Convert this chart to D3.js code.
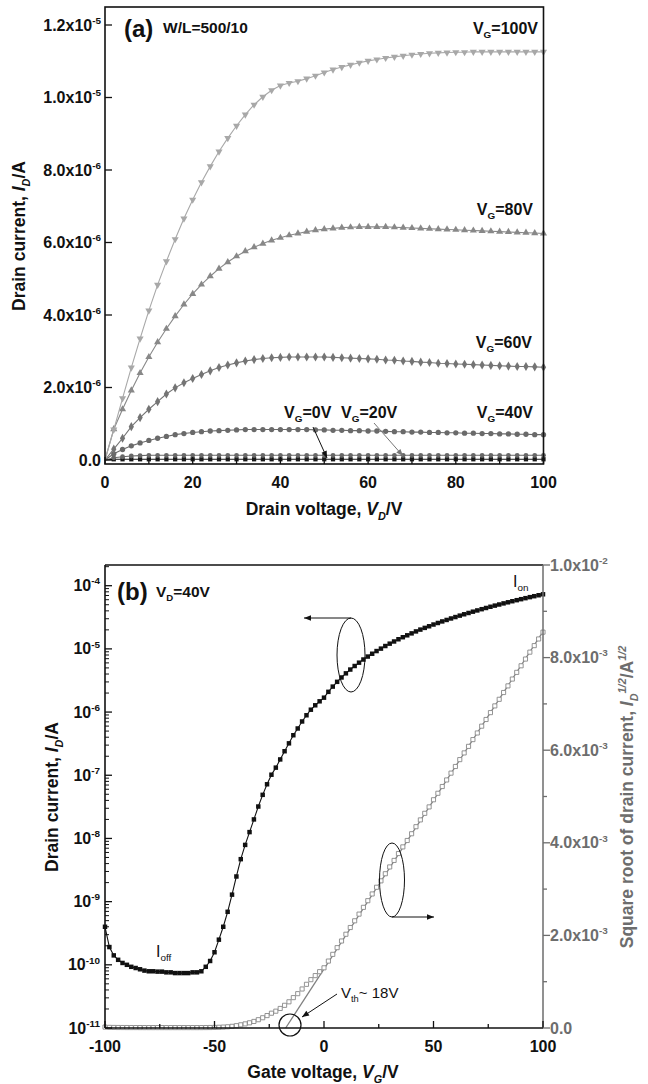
<!DOCTYPE html>
<html>
<head>
<meta charset="UTF-8">
<style>
  body { margin: 0; background: #fff; }
  svg text { font-family: "Liberation Sans", Arial, Helvetica, sans-serif; }
</style>
</head>
<body>
<svg id="chart" width="648" height="1084"></svg>
<script src="https://d3js.org/d3.v7.min.js"></script>
<script>
// ---------- panel (a): output curves, I_D in µA vs V_D ----------
const vdA = d3.range(0, 101, 2);
const id100 = [0, 0.84, 1.70, 2.55, 3.35, 4.12, 4.83, 5.48, 6.09, 6.66, 7.18, 7.66, 8.10, 8.51, 8.88, 9.22, 9.53, 9.80, 10.02, 10.20,
  10.33, 10.40, 10.45, 10.52, 10.60, 10.69, 10.77, 10.84, 10.90, 10.96, 11.01, 11.05, 11.09, 11.12, 11.15, 11.18, 11.20, 11.22, 11.23, 11.24,
  11.25, 11.25, 11.26, 11.26, 11.26, 11.26, 11.26, 11.26, 11.26, 11.26, 11.26];
const id80 = [0, 0.85, 1.40, 1.92, 2.40, 2.84, 3.25, 3.62, 3.97, 4.29, 4.58, 4.84, 5.07, 5.28, 5.46, 5.62, 5.76, 5.87, 5.97, 6.06,
  6.13, 6.20, 6.25, 6.30, 6.34, 6.37, 6.39, 6.41, 6.42, 6.43, 6.43, 6.43, 6.43, 6.42, 6.41, 6.40, 6.39, 6.38, 6.37, 6.36,
  6.35, 6.34, 6.33, 6.32, 6.31, 6.30, 6.29, 6.28, 6.27, 6.26, 6.25];
const id60 = [0, 0.30, 0.60, 0.92, 1.17, 1.40, 1.61, 1.82, 1.99, 2.13, 2.25, 2.36, 2.46, 2.55, 2.62, 2.68, 2.73, 2.77, 2.80, 2.82,
  2.83, 2.84, 2.84, 2.84, 2.84, 2.84, 2.83, 2.82, 2.81, 2.80, 2.79, 2.78, 2.76, 2.75, 2.73, 2.72, 2.70, 2.69, 2.67, 2.66,
  2.65, 2.64, 2.63, 2.62, 2.61, 2.60, 2.59, 2.58, 2.58, 2.57, 2.56];
const id40 = [0, 0.17, 0.29, 0.39, 0.47, 0.54, 0.60, 0.65, 0.70, 0.73, 0.76, 0.78, 0.80, 0.81, 0.82, 0.83, 0.84, 0.84, 0.84, 0.84,
  0.84, 0.84, 0.84, 0.84, 0.83, 0.83, 0.82, 0.82, 0.81, 0.81, 0.80, 0.80, 0.79, 0.78, 0.78, 0.77, 0.77, 0.76, 0.76, 0.75,
  0.75, 0.74, 0.74, 0.73, 0.73, 0.72, 0.72, 0.71, 0.71, 0.70, 0.70];
const id20 = [0, 0.06, 0.09, 0.11, 0.12, 0.13, 0.13, 0.13, 0.13, 0.13, 0.13, 0.13, 0.13, 0.13, 0.13, 0.13, 0.13, 0.13, 0.13, 0.13,
  0.13, 0.13, 0.13, 0.13, 0.13, 0.13, 0.13, 0.13, 0.13, 0.13, 0.13, 0.13, 0.13, 0.13, 0.13, 0.13, 0.13, 0.13, 0.13, 0.13,
  0.13, 0.13, 0.13, 0.13, 0.13, 0.13, 0.13, 0.13, 0.13, 0.13, 0.13];
const id0 = [0, 0.02, 0.02, 0.02, 0.02, 0.02, 0.02, 0.02, 0.02, 0.02, 0.02, 0.02, 0.02, 0.02, 0.02, 0.02, 0.02, 0.02, 0.02, 0.02,
  0.02, 0.02, 0.02, 0.02, 0.02, 0.02, 0.02, 0.02, 0.02, 0.02, 0.02, 0.02, 0.02, 0.02, 0.02, 0.02, 0.02, 0.02, 0.02, 0.02,
  0.02, 0.02, 0.02, 0.02, 0.02, 0.02, 0.02, 0.02, 0.02, 0.02, 0.02];
const xTicksA = [0, 20, 40, 60, 80, 100];
const yTicksA = [0, 2e-6, 4e-6, 6e-6, 8e-6, 1e-5, 1.2e-5];

// ---------- panel (b): transfer curve at V_D = 40 V ----------
const vgB = d3.range(-100, 101, 2);
const idB = [4.0e-10, 1.91e-10, 1.41e-10, 1.20e-10, 1.07e-10, 1.00e-10, 9.3e-11, 8.9e-11, 8.5e-11, 8.1e-11,
  7.9e-11, 7.9e-11, 7.8e-11, 7.8e-11, 7.6e-11, 7.6e-11, 7.4e-11, 7.4e-11, 7.4e-11, 7.4e-11,
  7.6e-11, 7.6e-11, 7.9e-11, 9.3e-11, 1.15e-10, 1.58e-10, 2.5e-10, 4.0e-10, 6.9e-10, 1.29e-9,
  2.5e-9, 4.7e-9, 7.9e-9, 1.26e-8, 2.0e-8, 3.2e-8, 4.9e-8, 7.2e-8, 1.02e-7, 1.32e-7,
  1.78e-7, 2.4e-7, 3.2e-7, 4.3e-7, 5.5e-7, 7.1e-7, 8.9e-7, 1.09e-6, 1.28e-6, 1.48e-6,
  1.69e-6, 2.09e-6, 2.53e-6, 3.01e-6, 3.53e-6, 4.10e-6, 4.71e-6, 5.36e-6, 6.05e-6, 6.79e-6,
  7.56e-6, 8.38e-6, 9.24e-6, 1.01e-5, 1.11e-5, 1.21e-5, 1.31e-5, 1.42e-5, 1.53e-5, 1.64e-5,
  1.76e-5, 1.89e-5, 2.02e-5, 2.15e-5, 2.28e-5, 2.43e-5, 2.57e-5, 2.72e-5, 2.87e-5, 3.03e-5,
  3.19e-5, 3.36e-5, 3.53e-5, 3.70e-5, 3.88e-5, 4.06e-5, 4.25e-5, 4.44e-5, 4.64e-5, 4.84e-5,
  5.04e-5, 5.25e-5, 5.46e-5, 5.68e-5, 5.90e-5, 6.12e-5, 6.35e-5, 6.59e-5, 6.82e-5, 7.06e-5,
  7.31e-5];
const fitVg = [-17.5, 100];
const fitSqrt = [0, 8.56e-3];
const xTicksB = [-100, -50, 0, 50, 100];
const yTicksB = [1e-11, 1e-10, 1e-9, 1e-8, 1e-7, 1e-6, 1e-5, 1e-4];
const yTicksR = [0, 0.002, 0.004, 0.006, 0.008, 0.010];

const svg = d3.select("#chart");
const FS = 16;   // tick labels
const TS = 17.5; // axis titles

// text with sub/superscripts: parts = [[str, "sub"|"sup"|null, italic?]]
function rich(parent, x, y, parts, o) {
  const size = o.size || FS;
  const t = parent.append("text").attr("x", x).attr("y", y)
    .attr("font-size", size)
    .attr("font-weight", o.weight || "bold")
    .attr("text-anchor", o.anchor || "start")
    .attr("fill", o.fill || "#111");
  if (o.family) t.attr("font-family", o.family);
  if (o.rotate) t.attr("transform", `rotate(${o.rotate},${x},${y})`);
  let cur = 0;
  parts.forEach(([str, kind, ital]) => {
    const off = kind === "sup" ? -size * 0.42 : kind === "sub" ? size * 0.28 : 0;
    const ts = t.append("tspan").attr("dy", off - cur).text(str);
    if (kind) ts.attr("font-size", size * 0.62);
    if (ital) ts.attr("font-style", "italic");
    cur = off;
  });
  return t;
}

function sci(v) {
  if (v === 0) return [["0.0"]];
  const e = Math.floor(Math.log10(v) + 1e-9);
  const m = v / Math.pow(10, e);
  return [[m.toFixed(1) + "x10"], [String(e), "sup"]];
}

// arrow heads
const defs = svg.append("defs");
[["blk", "#111"], ["gry", "#777"]].forEach(([id, c]) => {
  defs.append("marker").attr("id", "arr-" + id)
    .attr("viewBox", "0 0 10 10").attr("refX", 10).attr("refY", 5)
    .attr("markerWidth", 9).attr("markerHeight", 7).attr("markerUnits", "userSpaceOnUse")
    .attr("orient", "auto")
    .append("path").attr("d", "M0,1 L10,5 L0,9 Z").attr("fill", c);
});

// ================= panel (a) =================
const xA = d3.scaleLinear().domain([0, 100]).range([105, 543.5]);
const yA = d3.scaleLinear().domain([0, 1.2e-5]).range([460, 25]);
const gA = svg.append("g");

const seriesA = [
  { vals: id0,   sym: d3.symbolSquare,   rot: 0,   size: 18, color: "#1a1a1a" },
  { vals: id20,  sym: d3.symbolCircle,   rot: 0,   size: 18, color: "#676767" },
  { vals: id40,  sym: d3.symbolCircle,   rot: 0,   size: 22, color: "#6a6a6a" },
  { vals: id60,  sym: d3.symbolDiamond,  rot: 0,   size: 24, color: "#747474" },
  { vals: id80,  sym: d3.symbolTriangle, rot: 0,   size: 22, color: "#888888" },
  { vals: id100, sym: d3.symbolTriangle, rot: 180, size: 22, color: "#a8a8a8" }
];

seriesA.forEach(s => {
  const pts = vdA.map((v, i) => [v, s.vals[i] * 1e-6]);
  gA.append("path").datum(pts)
    .attr("fill", "none").attr("stroke", s.color).attr("stroke-width", 1.1)
    .attr("d", d3.line().x(d => xA(d[0])).y(d => yA(d[1])));
  gA.append("g").selectAll("path").data(pts.slice(1)).join("path")
    .attr("d", d3.symbol().type(s.sym).size(s.size))
    .attr("transform", d => `translate(${xA(d[0])},${yA(d[1])}) rotate(${s.rot})`)
    .attr("fill", s.color);
});

// frame and ticks
gA.append("rect").attr("x", 105).attr("y", 7).attr("width", 438.5).attr("height", 457)
  .attr("fill", "none").attr("stroke", "#111").attr("stroke-width", 1.6);
const fA = 464;
d3.range(0, 101, 10).forEach(v => {
  const major = v % 20 === 0;
  gA.append("line").attr("x1", xA(v)).attr("x2", xA(v)).attr("y1", fA).attr("y2", fA - (major ? 7 : 4))
    .attr("stroke", "#111").attr("stroke-width", 1.3);
});
xTicksA.forEach(v => rich(gA, xA(v), 488, [[String(v)]], { anchor: "middle" }));
yTicksA.forEach(v => {
  gA.append("line").attr("x1", 105).attr("x2", 112).attr("y1", yA(v)).attr("y2", yA(v))
    .attr("stroke", "#111").attr("stroke-width", 1.3);
  rich(gA, 101, yA(v) + 5.5, sci(v), { anchor: "end" });
});
rich(gA, 324, 515, [["Drain voltage, "], ["V", null, 1], ["D", "sub", 1], ["/V"]], { anchor: "middle", size: TS });
rich(gA, 25, 236, [["Drain current, "], ["I", null, 1], ["D", "sub", 1], ["/A"]], { anchor: "middle", size: TS, rotate: -90 });

rich(gA, 124, 37, [["(a)"]], { size: 24 });
rich(gA, 163, 33, [["W/L=500/10"]], { size: 15.5 });
rich(gA, 538, 34, [["V"], ["G", "sub"], ["=100V"]], { anchor: "end" });
rich(gA, 533, 215, [["V"], ["G", "sub"], ["=80V"]], { anchor: "end" });
rich(gA, 532, 348, [["V"], ["G", "sub"], ["=60V"]], { anchor: "end" });
rich(gA, 533, 418, [["V"], ["G", "sub"], ["=40V"]], { anchor: "end" });
rich(gA, 341, 418, [["V"], ["G", "sub"], ["=20V"]], {});
rich(gA, 284, 418, [["V"], ["G", "sub"], ["=0V"]], {});
gA.append("line").attr("x1", 313).attr("y1", 427).attr("x2", 327).attr("y2", 458)
  .attr("stroke", "#111").attr("stroke-width", 1).attr("marker-end", "url(#arr-blk)");
gA.append("line").attr("x1", 374).attr("y1", 423).attr("x2", 403).attr("y2", 456)
  .attr("stroke", "#777").attr("stroke-width", 1).attr("marker-end", "url(#arr-gry)");

// ================= panel (b) =================
const xB = d3.scaleLinear().domain([-100, 100]).range([105, 543]);
const yB = d3.scaleLog().domain([1e-11, 1e-4]).range([1028, 585.7]);
const yR = d3.scaleLinear().domain([0, 0.01]).range([1028, 565]);
const ySq = d3.scaleSqrt().domain([0, 1e-4]).range([1028, 565]);
const gB = svg.append("g");
const grayR = "#6d6d6d";

const ptsB = vgB.map((v, i) => [v, idB[i]]);

// sqrt(I_D) hollow squares + linear fit
gB.append("path").datum(fitVg.map((v, i) => [v, fitSqrt[i]]))
  .attr("fill", "none").attr("stroke", "#808080").attr("stroke-width", 1.3)
  .attr("d", d3.line().x(d => xB(d[0])).y(d => yR(d[1])));
gB.append("g").selectAll("path").data(ptsB).join("path")
  .attr("d", d3.symbol().type(d3.symbolSquare).size(17))
  .attr("transform", d => `translate(${xB(d[0])},${ySq(d[1])})`)
  .attr("fill", "#fff").attr("stroke", "#888").attr("stroke-width", 0.9);

// log I_D filled squares
gB.append("path").datum(ptsB)
  .attr("fill", "none").attr("stroke", "#111").attr("stroke-width", 1.1)
  .attr("d", d3.line().x(d => xB(d[0])).y(d => yB(d[1])));
gB.append("g").selectAll("path").data(ptsB).join("path")
  .attr("d", d3.symbol().type(d3.symbolSquare).size(20))
  .attr("transform", d => `translate(${xB(d[0])},${yB(d[1])})`)
  .attr("fill", "#111");

// frame
gB.append("line").attr("x1", 105).attr("x2", 543).attr("y1", 565).attr("y2", 565).attr("stroke", "#111").attr("stroke-width", 1.4);
gB.append("line").attr("x1", 105).attr("x2", 105).attr("y1", 565).attr("y2", 1028).attr("stroke", "#111").attr("stroke-width", 1.6);
gB.append("line").attr("x1", 105).attr("x2", 543).attr("y1", 1028).attr("y2", 1028).attr("stroke", "#111").attr("stroke-width", 1.6);
gB.append("line").attr("x1", 543).attr("x2", 543).attr("y1", 565).attr("y2", 1028).attr("stroke", grayR).attr("stroke-width", 1.5);

// bottom ticks
d3.range(-100, 101, 25).forEach(v => {
  const major = v % 50 === 0;
  gB.append("line").attr("x1", xB(v)).attr("x2", xB(v)).attr("y1", 1028).attr("y2", 1028 - (major ? 7 : 4))
    .attr("stroke", "#111").attr("stroke-width", 1.3);
});
xTicksB.forEach(v => rich(gB, xB(v), 1052, [[String(v)]], { anchor: "middle" }));

// left log ticks
yTicksB.forEach(v => {
  gB.append("line").attr("x1", 105).attr("x2", 112).attr("y1", yB(v)).attr("y2", yB(v))
    .attr("stroke", "#111").attr("stroke-width", 1.3);
  rich(gB, 100, yB(v) + 5.5, [["10"], [String(Math.round(Math.log10(v))), "sup"]], { anchor: "end" });
  d3.range(2, 10).forEach(k => {
    const y = yB(v * k);
    if (y < 566) return;
    gB.append("line").attr("x1", 105).attr("x2", 109).attr("y1", y).attr("y2", y)
      .attr("stroke", "#111").attr("stroke-width", 1);
  });
});

// right linear ticks (gray, outside)
d3.range(0, 0.0101, 0.001).forEach((v, i) => {
  const major = i % 2 === 0;
  gB.append("line").attr("x1", 543).attr("x2", 543 + (major ? 7 : 4)).attr("y1", yR(v)).attr("y2", yR(v))
    .attr("stroke", grayR).attr("stroke-width", 1.3);
});
yTicksR.forEach(v => rich(gB, 550, yR(v) + 5.5, sci(v), { fill: grayR }));

// titles
rich(gB, 323, 1078, [["Gate voltage, "], ["V", null, 1], ["G", "sub", 1], ["/V"]], { anchor: "middle", size: TS });
rich(gB, 58, 797, [["Drain current, "], ["I", null, 1], ["D", "sub", 1], ["/A"]], { anchor: "middle", size: TS, rotate: -90 });
rich(gB, 633, 797, [["Square root of drain current, "], ["I", null, 1], ["D", "sub", 1], ["1/2", "sup", 1], ["/A"], ["1/2", "sup", 1]],
  { anchor: "middle", size: TS, rotate: -90, fill: grayR });

// annotations
rich(gB, 117, 600, [["(b)"]], { size: 24 });
rich(gB, 156, 597, [["V"], ["D", "sub"], ["=40V"]], { size: 15.5 });
rich(gB, 513, 587, [["I"], ["on", "sub"]], { family: "'Liberation Serif', 'Times New Roman', serif", weight: "normal", size: 16 });
rich(gB, 156, 957, [["I"], ["off", "sub"]], { family: "'Liberation Serif', 'Times New Roman', serif", weight: "normal", size: 16 });
rich(gB, 341, 998, [["V"], ["th", "sub"], ["~ 18V"]], { weight: "normal", size: 15 });

gB.append("ellipse").attr("cx", 351).attr("cy", 655).attr("rx", 14).attr("ry", 37)
  .attr("fill", "none").attr("stroke", "#111").attr("stroke-width", 1);
gB.append("line").attr("x1", 351).attr("y1", 618).attr("x2", 304).attr("y2", 618)
  .attr("stroke", "#111").attr("stroke-width", 1).attr("marker-end", "url(#arr-blk)");
gB.append("ellipse").attr("cx", 392).attr("cy", 880).attr("rx", 12.5).attr("ry", 37)
  .attr("fill", "none").attr("stroke", "#111").attr("stroke-width", 1);
gB.append("line").attr("x1", 392).attr("y1", 917).attr("x2", 434).attr("y2", 917)
  .attr("stroke", "#111").attr("stroke-width", 1).attr("marker-end", "url(#arr-blk)");
gB.append("circle").attr("cx", 290).attr("cy", 1025).attr("r", 11)
  .attr("fill", "none").attr("stroke", "#111").attr("stroke-width", 1.2);
gB.append("line").attr("x1", 337).attr("y1", 994).attr("x2", 302).attr("y2", 1017)
  .attr("stroke", "#111").attr("stroke-width", 1).attr("marker-end", "url(#arr-blk)");
</script>
</body>
</html>
